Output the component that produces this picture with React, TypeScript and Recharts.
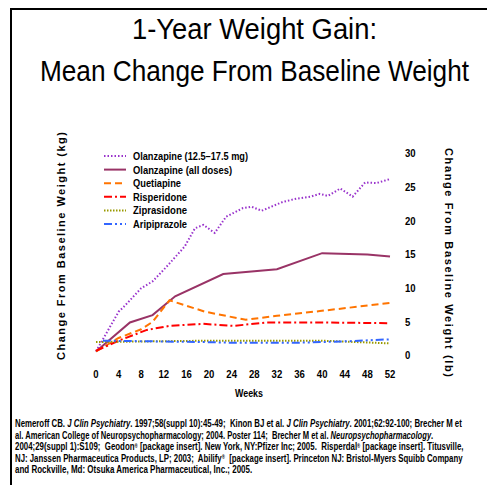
import React, { useLayoutEffect, useRef, useState } from 'react';
import { LineChart, Line, XAxis, YAxis, Legend } from 'recharts';

const FONT = "'Liberation Sans', Arial, Helvetica, sans-serif";

// x axis: weeks, right axis: pounds
const WEEK_TICKS = [0, 4, 8, 12, 16, 20, 24, 28, 32, 36, 40, 44, 48, 52];
const LB_TICKS = [0, 5, 10, 15, 20, 25, 30];

// values (lb)
const olanzapineHigh = [
  { week: 0, lb: 0.6 },
  { week: 4, lb: 6.5 },
  { week: 5, lb: 7.3 },
  { week: 8, lb: 10.0 },
  { week: 10, lb: 11.0 },
  { week: 12.5, lb: 13.2 },
  { week: 15.7, lb: 16.2 },
  { week: 17.5, lb: 18.9 },
  { week: 19, lb: 19.4 },
  { week: 21, lb: 18.2 },
  { week: 23, lb: 20.6 },
  { week: 26, lb: 21.9 },
  { week: 27.5, lb: 22.1 },
  { week: 29.3, lb: 21.5 },
  { week: 33, lb: 22.8 },
  { week: 35.5, lb: 23.3 },
  { week: 38, lb: 23.6 },
  { week: 39.6, lb: 24.0 },
  { week: 41, lb: 23.7 },
  { week: 43.2, lb: 24.8 },
  { week: 45.4, lb: 23.6 },
  { week: 47.6, lb: 25.7 },
  { week: 49.6, lb: 25.6 },
  { week: 52, lb: 26.2 },
];

const olanzapineAll = [
  { week: 0, lb: 0.6 },
  { week: 6, lb: 4.9 },
  { week: 10, lb: 6.0 },
  { week: 14, lb: 8.8 },
  { week: 22.5, lb: 12.1 },
  { week: 32, lb: 12.8 },
  { week: 40, lb: 15.2 },
  { week: 48, lb: 15.0 },
  { week: 52, lb: 14.7 },
];

const quetiapine = [
  { week: 0, lb: 0.6 },
  { week: 4, lb: 2.6 },
  { week: 8, lb: 3.9 },
  { week: 10, lb: 5.0 },
  { week: 13, lb: 8.2 },
  { week: 19.3, lb: 6.5 },
  { week: 26.5, lb: 5.3 },
  { week: 32, lb: 5.9 },
  { week: 39.6, lb: 6.6 },
  { week: 52, lb: 7.8 },
];

const risperidone = [
  { week: 0, lb: 0.7 },
  { week: 4, lb: 2.2 },
  { week: 9, lb: 3.8 },
  { week: 13, lb: 4.4 },
  { week: 19, lb: 4.7 },
  { week: 24.3, lb: 4.4 },
  { week: 30.2, lb: 4.9 },
  { week: 39.6, lb: 4.9 },
  { week: 52, lb: 4.8 },
];

const ziprasidone = [
  { week: 0, lb: 2.0 },
  { week: 20, lb: 2.2 },
  { week: 40, lb: 2.2 },
  { week: 52, lb: 1.8 },
];

const aripiprazole = [
  { week: 1.2, lb: 2.2 },
  { week: 19, lb: 2.0 },
  { week: 24, lb: 1.9 },
  { week: 36, lb: 1.9 },
  { week: 44, lb: 2.1 },
  { week: 52, lb: 2.4 },
];

const SERIES = [
  { name: 'Olanzapine (12.5\u201317.5 mg)', data: olanzapineHigh, color: '#9933CC', dash: '1.5 2', legendW: 115 },
  { name: 'Olanzapine (all doses)', data: olanzapineAll, color: '#993366', dash: undefined, legendW: 99 },
  { name: 'Quetiapine', data: quetiapine, color: '#FF7400', dash: '7 4', legendW: 48 },
  { name: 'Risperidone', data: risperidone, color: '#FF0000', dash: '8 3 2 3', legendW: 54 },
  { name: 'Ziprasidone', data: ziprasidone, color: '#999900', dash: '1.5 1.5', legendW: 54 },
  { name: 'Aripiprazole', data: aripiprazole, color: '#3366FF', dash: '8 3 2 3 2 3', legendW: 54 },
];

const FOOTNOTE_LINES = [
  { w: 447, parts: [['Nemeroff CB. '], ['J Clin Psychiatry', 'i'], ['. 1997;58(suppl 10):45-49;  Kinon BJ et al. '], ['J Clin Psychiatry', 'i'], ['. 2001;62:92-100; Brecher M et']] },
  { w: 418, parts: [['al. American College of Neuropsychopharmacology; 2004. Poster 114;  Brecher M et al. '], ['Neuropsychopharmacology', 'i'], ['.']] },
  { w: 448, parts: [['2004;29(suppl 1):S109;  Geodon'], ['\u00AE', 's'], [' [package insert]. New York, NY:Pfizer Inc; 2005.  Risperdal'], ['\u00AE', 's'], [' [package insert]. Titusville,']] },
  { w: 447, parts: [['NJ: Janssen Pharmaceutica Products, LP; 2003;  Abilify'], ['\u00AE', 's'], ['  [package insert]. Princeton NJ: Bristol-Myers Squibb Company']] },
  { w: 237, parts: [['and Rockville, Md: Otsuka America Pharmaceutical, Inc.; 2005.']] },
];

/** Text squeezed horizontally to a given width, like the narrow font of the original */
const FitText = ({ x, y, width, anchor = 'start', children, ...rest }: any) => {
  const ref = useRef<SVGTextElement>(null);
  const [sx, setSx] = useState(0.85);
  useLayoutEffect(() => {
    if (ref.current) {
      const w = ref.current.getComputedTextLength();
      if (w > 0) setSx(width / w);
    }
  }, [width]);
  return (
    <g transform={`translate(${x},${y}) scale(${sx},1)`}>
      <text ref={ref} x={0} y={0} textAnchor={anchor} fill="#000" fontFamily={FONT} xmlSpace="preserve" {...rest}>
        {children}
      </text>
    </g>
  );
};

const WeekTick = (props: any) => {
  const { x, y, payload } = props;
  return (
    <g transform={`translate(${x},${y})`}>
      <text transform="scale(0.87,1)" y={15} textAnchor="middle" fontFamily={FONT} fontSize={11} fontWeight="bold" fill="#000">
        {payload.value}
      </text>
    </g>
  );
};

const LbTick = (props: any) => {
  const { x, y, payload } = props;
  return (
    <g transform={`translate(${x + 7},${y})`}>
      <text transform="scale(0.87,1)" y={3.8} textAnchor="start" fontFamily={FONT} fontSize={11} fontWeight="bold" fill="#000">
        {payload.value}
      </text>
    </g>
  );
};

const axisTitleStyle = { fontFamily: FONT, fontSize: 11, fontWeight: 'bold' as const, fill: '#000' };

const KgLabel = () => (
  <text x={61} y={246} transform="rotate(-90 61 246)" textAnchor="middle" dominantBaseline="central" textLength={228} lengthAdjust="spacing" {...axisTitleStyle}>
    Change From Baseline Weight (kg)
  </text>
);

const LbLabel = () => (
  <text x={449} y={262.5} transform="rotate(90 449 262.5)" textAnchor="middle" dominantBaseline="central" textLength={229} lengthAdjust="spacing" {...axisTitleStyle}>
    Change From Baseline Weight (lb)
  </text>
);

const WeeksLabel = (props: any) => {
  const { viewBox } = props;
  const cx = viewBox.x + viewBox.width / 2 + 6;
  return (
    <FitText x={cx} y={397} width={28} anchor="middle" fontSize={11} fontWeight="bold">
      Weeks
    </FitText>
  );
};

const LegendBox = () => (
  <svg width={170} height={90}>
    {SERIES.map((s, i) => {
      const cy = 10 + i * 13.6;
      return (
        <g key={s.name}>
          <line x1={4} x2={26} y1={cy} y2={cy} stroke={s.color} strokeWidth={2} strokeDasharray={s.dash} />
          <FitText x={33} y={cy + 3.9} width={s.legendW} fontSize={11} fontWeight="bold">
            {s.name}
          </FitText>
        </g>
      );
    })}
  </svg>
);

export default function App() {
  return (
    <div style={{ position: 'absolute', left: 0, top: 0, width: 487, height: 485, background: '#fff', overflow: 'hidden' }}>
      <div style={{ position: 'absolute', left: 10, top: 8, width: 490, height: 490, borderTop: '2px solid #000', borderLeft: '2px solid #000' }} />
      <svg width={487} height={485} style={{ position: 'absolute', left: 0, top: 0 }}>
        <FitText x={254.5} y={39.3} width={245} anchor="middle" fontSize={30}>
          1-Year Weight Gain:
        </FitText>
        <FitText x={254.5} y={80.5} width={429} anchor="middle" fontSize={30}>
          Mean Change From Baseline Weight
        </FitText>
        {FOOTNOTE_LINES.map((ln, i) => (
          <FitText key={i} x={15} y={427 + i * 11.5} width={ln.w} fontSize={10} fontWeight="bold">
            {ln.parts.map((p, j) =>
              p[1] === 'i' ? (
                <tspan key={j} fontStyle="italic">{p[0]}</tspan>
              ) : p[1] === 's' ? (
                <tspan key={j} fontSize={5.5} baselineShift={2}>{p[0]}</tspan>
              ) : (
                <tspan key={j}>{p[0]}</tspan>
              )
            )}
          </FitText>
        ))}
      </svg>
      <div style={{ position: 'absolute', left: 0, top: 0 }}>
        <LineChart width={487} height={485} margin={{ top: 153.5, right: 47, bottom: 99.5, left: 56 }}>
          <XAxis
            dataKey="week"
            type="number"
            domain={[0, 52]}
            ticks={WEEK_TICKS}
            allowDuplicatedCategory={false}
            axisLine={false}
            tickLine={false}
            tick={<WeekTick />}
            interval={0}
            height={30}
            label={<WeeksLabel />}
          />
          <YAxis
            yAxisId="kg"
            orientation="left"
            domain={[0, 30 / 2.2046]}
            tick={false}
            axisLine={false}
            tickLine={false}
            width={40}
            label={<KgLabel />}
          />
          <YAxis
            yAxisId="lb"
            orientation="right"
            domain={[0, 30]}
            ticks={LB_TICKS}
            interval={0}
            axisLine={false}
            tickLine={false}
            tick={<LbTick />}
            width={50}
            label={<LbLabel />}
          />
          <Legend
            layout="vertical"
            align="center"
            verticalAlign="middle"
            content={() => <LegendBox />}
            wrapperStyle={{ left: 100, top: 146, width: 170, height: 90 }}
          />
          {SERIES.map((s) => (
            <Line
              key={s.name}
              yAxisId="lb"
              data={s.data}
              dataKey="lb"
              name={s.name}
              type="linear"
              stroke={s.color}
              strokeWidth={2}
              strokeDasharray={s.dash}
              dot={false}
              activeDot={false}
              isAnimationActive={false}
            />
          ))}
        </LineChart>
      </div>
    </div>
  );
}
